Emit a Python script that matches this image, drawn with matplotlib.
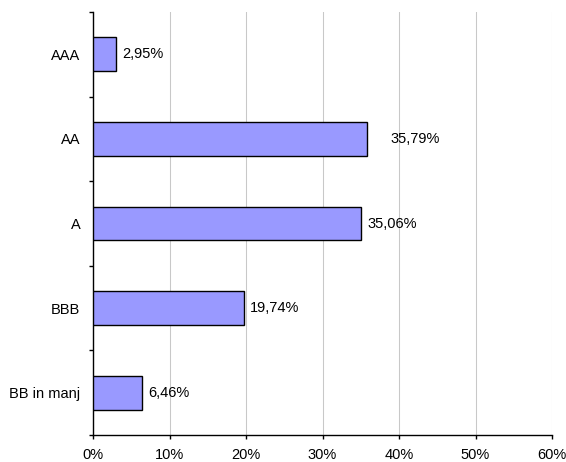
# staafdiagram ratingverdeling

import matplotlib.pyplot as plt
import numpy as np

categories = ['AAA', 'AA', 'A', 'BBB', 'BB in manj']
values = [2.95, 35.79, 35.06, 19.74, 6.46]  # in %
xticks = [0, 10, 20, 30, 40, 50, 60]

plt.rcParams['font.family'] = ['Liberation Sans', 'DejaVu Sans']

fig = plt.figure(figsize=(5.66, 4.62), dpi=100)
ax = fig.add_axes([93 / 566, 27 / 462, 459 / 566, 423 / 462])

y = np.arange(len(categories))
ax.barh(y, values, height=0.4, color='#9999FF', edgecolor='black', linewidth=1.0, zorder=3)

# waarden naast de balken (komma als decimaalteken)
for i, v in enumerate(values):
    off = 17 if categories[i] == 'AA' else 4.5
    ax.annotate(f'{v:.2f}%'.replace('.', ','), (v, i), xytext=(off, 0),
                textcoords='offset points', va='center', ha='left', fontsize=10.5)

ax.set_xlim(0, 60)
ax.set_ylim(len(categories) - 0.5, -0.5)

ax.set_xticks(xticks)
ax.set_xticklabels([f'{t}%' for t in xticks])
ax.tick_params(axis='x', direction='out', length=3, width=1, pad=6.5, labelsize=10.5)

# streepjes tussen de categorieen, labels in het midden
ax.set_yticks(np.arange(-0.5, len(categories), 1))
ax.set_yticklabels([])
ax.set_yticks(y, minor=True)
ax.set_yticklabels(categories, minor=True)
ax.tick_params(axis='y', which='major', direction='out', length=3, width=1)
ax.tick_params(axis='y', which='minor', length=0, pad=9, labelsize=10.5)

ax.grid(axis='x', color='#C8C8C8', linewidth=0.75, zorder=0)
ax.spines['top'].set_visible(False)
ax.spines['right'].set_visible(False)
ax.spines['left'].set_linewidth(1)
ax.spines['bottom'].set_linewidth(1)

plt.savefig('out.png', dpi=100)
